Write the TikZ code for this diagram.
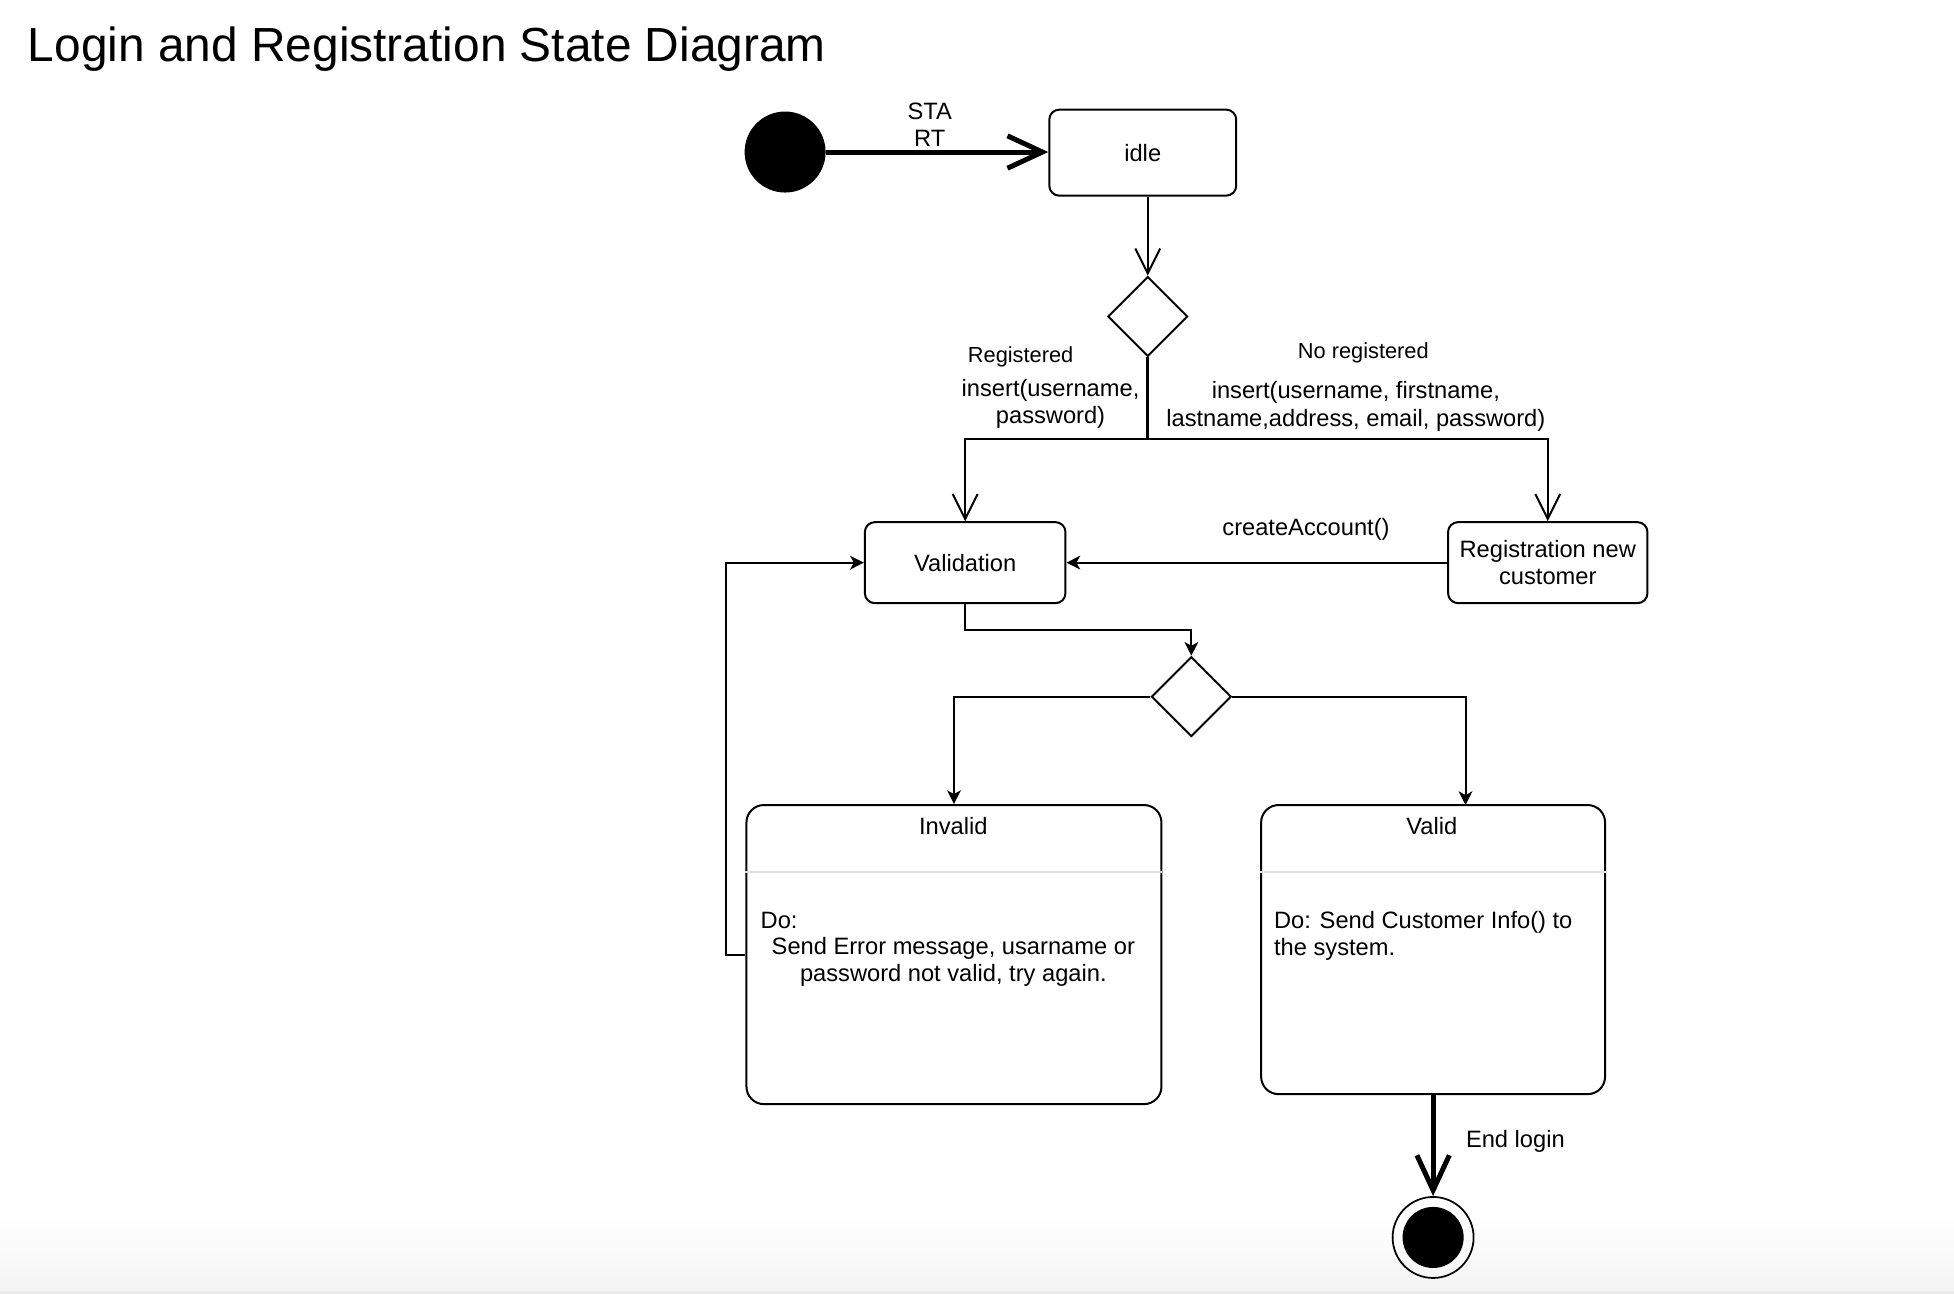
\documentclass[tikz,border=0pt]{standalone}
\usepackage{fontspec}
\setmainfont{Liberation Sans}
\usepackage{tikz}
\usetikzlibrary{positioning,shapes.geometric,arrows.meta}
\tikzstyle{diagram} = [x = 0.5pt, y = -0.5pt]
\definecolor{separatorColor}{RGB}{224,224,224}
\definecolor{bandColor}{RGB}{244,244,244}
\definecolor{stripColor}{RGB}{236,236,236}
\tikzstyle{stateStyle} = [draw, rounded corners = 4pt, line width = 0.8pt, inner sep = 0pt, font = \fontsize{9.5}{11}\selectfont, align = center]
\tikzstyle{bigStateStyle} = [draw, rounded corners = 7pt, line width = 0.8pt, inner sep = 0pt]
\tikzstyle{decisionStyle} = [draw, diamond, line width = 0.8pt, minimum width = 32pt, minimum height = 32pt, inner sep = 0pt]
\tikzstyle{bodyText} = [font = \fontsize{9.5}{11}\selectfont, align = center, inner sep = 0pt]
\tikzstyle{guardText} = [font = \fontsize{8.75}{10.5}\selectfont, inner sep = 0pt]
\tikzstyle{openFlow} = [line width = 0.8pt, -{Straight Barb[length = 10pt, width = 10pt]}]
\tikzstyle{flow} = [line width = 0.8pt, -{Stealth[length = 5.5pt, width = 5.5pt, inset = 1.5pt]}]
\tikzstyle{heavyFlow} = [line width = 2pt, -{Straight Barb[length = 14pt, width = 13pt]}]
\newcommand{\separatorLine}[2]{\draw [separatorColor, line width = 0.8pt] (#1.west |- 0,#2) -- (#1.east |- 0,#2);}

\begin{document}
\begin{tikzpicture}[diagram]
          \useasboundingbox (0,0) rectangle (1568,1038);
          % bottom band
          \shade [top color = white, bottom color = bandColor] (0,975) rectangle (1568,1036);
          \fill [stripColor] (0,1036) rectangle (1568,1038);

          \node (title) [anchor = base west, inner sep = 0pt, font = \fontsize{19.2}{23}\selectfont] at (22,49) {Login and Registration State Diagram};

          % states
          \node (initialState) [circle, fill, minimum size = 32.5pt, inner sep = 0pt] at (630,122) {};
          \node (idle) [stateStyle, minimum width = 75pt, minimum height = 34.5pt] at (917,122.5) {idle};
          \node (decisionOne) [decisionStyle] at (921,254) {};
          \coordinate (branchPoint) at (921,352);
          \node (validation) [stateStyle, minimum width = 80.5pt, minimum height = 32.5pt] at (774.5,451.5) {Validation};
          \node (registration) [stateStyle, minimum width = 80pt, minimum height = 32.5pt] at (1242,451.5) {Registration new\\customer};
          \node (decisionTwo) [decisionStyle] at (956,559) {};
          \node (invalidBox) [bigStateStyle, minimum width = 166.5pt, minimum height = 120pt] at (765.5,766) {};
          \node (validBox) [bigStateStyle, minimum width = 138pt, minimum height = 116pt] at (1150,762) {};
          \coordinate (validTop) at (1176,646);
          \node (finalState) [circle, draw, line width = 0.7pt, minimum size = 32.5pt, inner sep = 0pt] at (1150,993) {};
          \node (finalDot) [circle, fill, minimum size = 24.5pt, inner sep = 0pt] at (1150,993) {};

          % texts of the big states
          \node (invalidTitle) [bodyText] at (765,663) {Invalid};
          \separatorLine{invalidBox}{700}
          \node (invalidDo) [bodyText, anchor = base west] at (610,745) {Do:};
          \node (invalidText) [bodyText] at (765,772) {Send Error message, usarname or\\password not valid, try again.};
          \node (validTitle) [bodyText] at (1149,663) {Valid};
          \separatorLine{validBox}{700}
          \node (validText) [bodyText, align = left, anchor = west] at (1022,751) {Do: Send Customer Info() to\\the system.};

          % transitions
          \draw [heavyFlow] (initialState.east) -- (initialState.east -| idle.west);
          \node (startLabel) [bodyText] at (746,100) {STA\\RT};
          \draw [openFlow] (decisionOne |- idle.south) -- (decisionOne.north);
          \draw [line width = 1.3pt] (decisionOne.south) -- (branchPoint);
          \draw [openFlow] (branchPoint) -| (validation.north);
          \draw [openFlow] (branchPoint) -| (registration.north);
          \node (registeredLabel) [guardText] at (819,286) {Registered};
          \node (registeredInsert) [bodyText] at (843,324) {insert(username,\\password)};
          \node (newLabel) [guardText] at (1094,283) {No registered};
          \node (newInsert) [bodyText] at (1088,326) {insert(username, firstname,\\lastname,address, email, password)};
          \draw [flow] (registration.west) -- (validation.east);
          \node (createLabel) [bodyText] at (1048,425) {createAccount()};
          \draw [flow] (validation.south) -- ++(0,21) -| (decisionTwo.north);
          \draw [flow] (decisionTwo.west) -| (invalidBox.north);
          \draw [flow] (decisionTwo.east) -| (validTop);
          \draw [flow] (invalidBox.west) -- ++(-16,0) |- (validation.west);
          \draw [heavyFlow] (validBox.south) -- (finalState.north);
          \node (endLabel) [bodyText, anchor = west] at (1176,916) {End login};
        \end{tikzpicture}
\end{document}
